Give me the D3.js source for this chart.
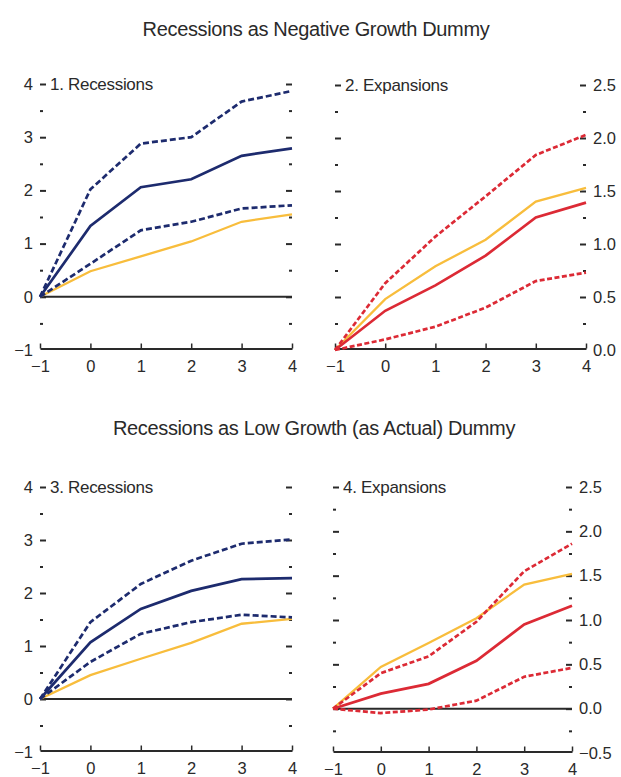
<!DOCTYPE html>
<html>
<head>
<meta charset="utf-8">
<script src="https://cdn.jsdelivr.net/npm/d3@7/dist/d3.min.js"></script>
<style>
  body { margin: 0; background: #fff; }
  svg { display: block; font-family: "Liberation Sans", Arial, sans-serif; }
</style>
</head>
<body>
<svg id="chart" width="621" height="777"></svg>
<script>
// ---------------- DATA ----------------
const horizons = [-1, 0, 1, 2, 3, 4];

const titleTop = "Recessions as Negative Growth Dummy";
const titleBottom = "Recessions as Low Growth (as Actual) Dummy";
const panelLabels = ["1. Recessions", "2. Expansions", "3. Recessions", "4. Expansions"];

// Panel 1: Recessions (negative growth dummy)
const p1Actual = [0, 0.48, 0.76, 1.04, 1.41, 1.55];
const p1Est    = [0, 1.33, 2.06, 2.21, 2.65, 2.79];
const p1Upper  = [0, 2.02, 2.88, 3.00, 3.67, 3.87];
const p1Lower  = [0, 0.62, 1.25, 1.41, 1.66, 1.72];

// Panel 2: Expansions (negative growth dummy)
const p2Actual = [0, 0.48, 0.79, 1.04, 1.40, 1.53];
const p2Est    = [0, 0.37, 0.61, 0.89, 1.25, 1.39];
const p2Upper  = [0, 0.63, 1.07, 1.45, 1.84, 2.03];
const p2Lower  = [0, 0.10, 0.22, 0.40, 0.65, 0.73];

// Panel 3: Recessions (low growth dummy)
const p3Actual = [0, 0.45, 0.76, 1.06, 1.42, 1.51];
const p3Est    = [0, 1.07, 1.70, 2.04, 2.26, 2.28];
const p3Upper  = [0, 1.45, 2.17, 2.61, 2.93, 3.01];
const p3Lower  = [0, 0.70, 1.23, 1.45, 1.59, 1.54];

// Panel 4: Expansions (low growth dummy)
const p4Actual = [0, 0.47, 0.74, 1.02, 1.40, 1.52];
const p4Est    = [0, 0.17, 0.28, 0.54, 0.95, 1.16];
const p4Upper  = [0, 0.40, 0.59, 0.98, 1.55, 1.86];
const p4Lower  = [0, -0.05, -0.01, 0.09, 0.36, 0.46];

// Tick values
const recMajorTicks = [-1, 0, 1, 2, 3, 4];
const recMinorTicks = [-0.5, 0.5, 1.5, 2.5, 3.5];
const exp2MajorTicks = [0, 0.5, 1.0, 1.5, 2.0, 2.5];
const exp2MinorTicks = [0.25, 0.75, 1.25, 1.75, 2.25];
const exp4MajorTicks = [-0.5, 0, 0.5, 1.0, 1.5, 2.0, 2.5];
const exp4MinorTicks = [-0.25, 0.25, 0.75, 1.25, 1.75, 2.25];

// ---------------- STYLE ----------------
const NAVY = "#1d2b6e";
const RED = "#dc2a35";
const GOLD = "#f8bd3c";
const INK = "#2a2a2a";

const svg = d3.select("#chart");
const minusFmt = v => (v < 0 ? "\u2212" : "") + Math.abs(v);
const minusFmt1 = v => (v < 0 ? "\u2212" : "") + d3.format(".1f")(Math.abs(v));

svg.append("text").attr("x", 316).attr("y", 36).attr("text-anchor", "middle")
  .attr("font-size", 20).attr("letter-spacing", -0.35).attr("fill", INK).text(titleTop);
svg.append("text").attr("x", 314).attr("y", 435).attr("text-anchor", "middle")
  .attr("font-size", 20).attr("letter-spacing", -0.35).attr("fill", INK).text(titleBottom);

const panels = [
  { label: panelLabels[0], x: [40, 292], y: [350, 84], dom: [-1, 4], major: recMajorTicks, minor: recMinorTicks,
    labelSide: "left", fmt: minusFmt, color: NAVY, dash: "6,3", actual: p1Actual, est: p1Est, up: p1Upper, lo: p1Lower },
  { label: panelLabels[1], x: [335, 586], y: [350, 85], dom: [0, 2.5], major: exp2MajorTicks, minor: exp2MinorTicks,
    labelSide: "right", fmt: minusFmt1, color: RED, dash: "5,2.5", actual: p2Actual, est: p2Est, up: p2Upper, lo: p2Lower },
  { label: panelLabels[2], x: [40, 292], y: [752, 487], dom: [-1, 4], major: recMajorTicks, minor: recMinorTicks,
    labelSide: "left", fmt: minusFmt, color: NAVY, dash: "6,3", actual: p3Actual, est: p3Est, up: p3Upper, lo: p3Lower },
  { label: panelLabels[3], x: [333, 572], y: [753, 487], dom: [-0.5, 2.5], major: exp4MajorTicks, minor: exp4MinorTicks,
    labelSide: "right", fmt: minusFmt1, color: RED, dash: "5,2.5", actual: p4Actual, est: p4Est, up: p4Upper, lo: p4Lower }
];

panels.forEach(p => {
  const x = d3.scaleLinear().domain([-1, 4]).range(p.x);
  const y = d3.scaleLinear().domain(p.dom).range(p.y);
  const g = svg.append("g");

  // Left ticks
  const leftMajor = d3.axisLeft(y).tickValues(p.major).tickSizeInner(-6).tickSizeOuter(0).tickPadding(7)
    .tickFormat(p.labelSide === "left" ? p.fmt : () => "");
  const la = g.append("g").attr("transform", `translate(${p.x[0]},0)`).call(leftMajor);
  const leftMinor = d3.axisLeft(y).tickValues(p.minor).tickSizeInner(-3).tickSizeOuter(0).tickFormat(() => "");
  const lm = g.append("g").attr("transform", `translate(${p.x[0]},0)`).call(leftMinor);

  // Right ticks
  const rightMajor = d3.axisRight(y).tickValues(p.major).tickSizeInner(-6).tickSizeOuter(0).tickPadding(7)
    .tickFormat(p.labelSide === "right" ? p.fmt : () => "");
  const ra = g.append("g").attr("transform", `translate(${p.x[1]},0)`).call(rightMajor);
  const rightMinor = d3.axisRight(y).tickValues(p.minor).tickSizeInner(-3).tickSizeOuter(0).tickFormat(() => "");
  const rm = g.append("g").attr("transform", `translate(${p.x[1]},0)`).call(rightMinor);

  [la, lm, ra, rm].forEach(a => {
    a.select(".domain").remove();
    a.selectAll(".tick line").attr("stroke", INK).attr("stroke-width", 2);
    a.selectAll(".tick text").attr("font-size", 16.5).attr("fill", INK);
    a.attr("font-family", null);
  });
  [la, lm, ra, rm].forEach(a => a.selectAll(".tick").filter(d => d === p.dom[0]).select("line").remove());

  // X axis
  const xa = g.append("g").attr("transform", `translate(0,${p.y[0] - 1.5})`)
    .call(d3.axisBottom(x).tickValues(horizons).tickSizeInner(-5).tickSizeOuter(0).tickPadding(12).tickFormat(minusFmt));
  xa.attr("font-family", null);
  xa.select(".domain").attr("stroke", INK).attr("stroke-width", 1.8);
  xa.selectAll(".tick line").attr("stroke", INK).attr("stroke-width", 1.5);
  xa.selectAll(".tick text").attr("font-size", 16.5).attr("fill", INK);

  // Zero line
  if (p.dom[0] < 0) {
    g.append("line").attr("x1", p.x[0]).attr("x2", p.x[1]).attr("y1", y(0)).attr("y2", y(0))
      .attr("stroke", INK).attr("stroke-width", 2);
  }

  // Panel label
  g.append("text").attr("x", p.x[0] + 10).attr("y", y(p.dom[1])).attr("dy", "0.34em")
    .attr("font-size", 17).attr("letter-spacing", -0.3).attr("fill", INK).text(p.label);

  const line = d3.line().x((d, i) => x(horizons[i])).y(d => y(d));

  g.append("path").datum(p.actual).attr("d", line).attr("fill", "none")
    .attr("stroke", GOLD).attr("stroke-width", 2.3);
  g.append("path").datum(p.up).attr("d", line).attr("fill", "none")
    .attr("stroke", p.color).attr("stroke-width", 2.7).attr("stroke-dasharray", p.dash);
  g.append("path").datum(p.lo).attr("d", line).attr("fill", "none")
    .attr("stroke", p.color).attr("stroke-width", 2.7).attr("stroke-dasharray", p.dash);
  g.append("path").datum(p.est).attr("d", line).attr("fill", "none")
    .attr("stroke", p.color).attr("stroke-width", 2.7);
});
</script>
</body>
</html>
